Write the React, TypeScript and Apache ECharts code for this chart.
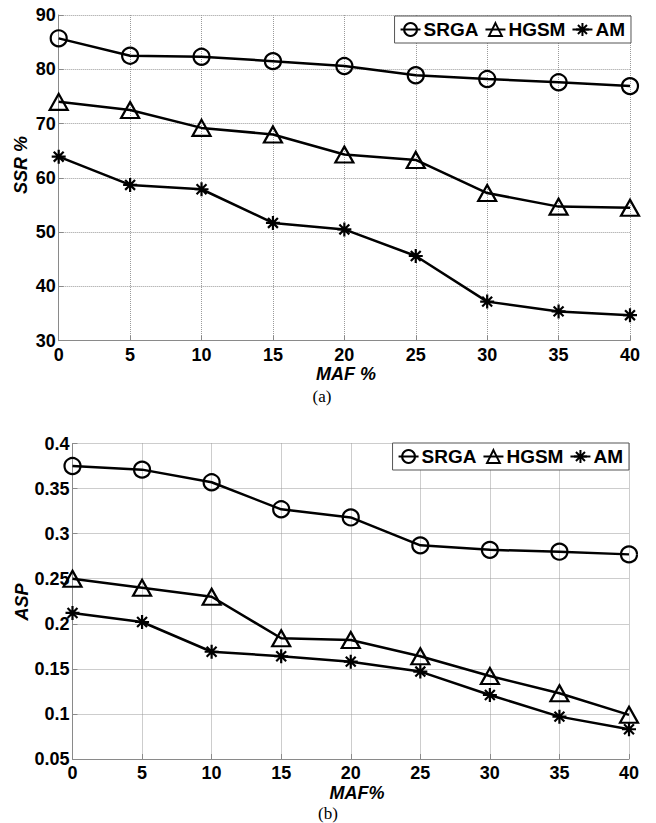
import React, { useEffect, useRef } from "react";
import * as echarts from "echarts";

const xValues = [0, 5, 10, 15, 20, 25, 30, 35, 40];
const seriesNames = ["SRGA", "HGSM", "AM"];

const ssrSRGA = [85.7, 82.5, 82.3, 81.5, 80.6, 78.9, 78.2, 77.6, 76.9];
const ssrHGSM = [74.0, 72.5, 69.2, 68.0, 64.3, 63.3, 57.2, 54.7, 54.5];
const ssrAM = [63.9, 58.7, 57.9, 51.7, 50.5, 45.6, 37.2, 35.4, 34.7];

const aspSRGA = [0.375, 0.371, 0.357, 0.327, 0.318, 0.287, 0.282, 0.28, 0.277];
const aspHGSM = [0.25, 0.24, 0.23, 0.184, 0.182, 0.164, 0.142, 0.123, 0.099];
const aspAM = [0.212, 0.202, 0.169, 0.164, 0.158, 0.147, 0.121, 0.097, 0.083];

const FONT = "'Liberation Sans', Arial, sans-serif";
const SERIF = "'Liberation Serif', 'Times New Roman', serif";
const AX = "#8a8a8a";

const ASTERISK =
  "path://M0,-10L0,10M-10,0L10,0M-7.07,-7.07L7.07,7.07M-7.07,7.07L7.07,-7.07";

const symbols: Record<string, any> = {
  SRGA: { symbol: "circle", symbolSize: 16 },
  HGSM: { symbol: "triangle", symbolSize: [18, 16] },
  AM: { symbol: ASTERISK, symbolSize: 14 },
};

function makeSeries(name: string, vals: number[], idx: number) {
  return {
    type: "line",
    name,
    xAxisIndex: idx,
    yAxisIndex: idx,
    data: xValues.map((x, i) => [x, vals[i]]),
    ...symbols[name],
    showAllSymbol: true,
    lineStyle: { color: "#000", width: 2.5 },
    itemStyle: { color: "rgba(0,0,0,0)", borderColor: "#000", borderWidth: 2.2 },
    emphasis: { disabled: true },
    z: name === "AM" ? 4 : 3,
  };
}

function xAxis(gridIndex: number) {
  return {
    type: "value",
    gridIndex,
    min: 0,
    max: 40,
    interval: 5,
    axisLine: { show: true, lineStyle: { color: AX, width: 1 } },
    axisTick: { show: true, inside: true, length: 5, lineStyle: { color: AX } },
    axisLabel: {
      color: "#000",
      fontFamily: FONT,
      fontWeight: "bold",
      fontSize: 18,
      margin: 5,
    },
    splitLine: { show: true, lineStyle: { color: "#9a9a9a", type: "dotted", width: 1 } },
  };
}

function yAxis(gridIndex: number, min: number, max: number, interval: number) {
  return {
    type: "value",
    gridIndex,
    min,
    max,
    interval,
    axisLine: { show: true, lineStyle: { color: AX, width: 1 } },
    axisTick: { show: true, inside: true, length: 5, lineStyle: { color: AX } },
    axisLabel: {
      color: "#000",
      fontFamily: FONT,
      fontWeight: "bold",
      fontSize: 18,
      margin: 3,
      formatter: (v: number) => String(parseFloat(v.toFixed(2))),
    },
    splitLine: { show: true, lineStyle: { color: "#9a9a9a", type: "dotted", width: 1 } },
  };
}

function legend(top: number, right: number) {
  return {
    data: seriesNames,
    top,
    right,
    orient: "horizontal",
    itemWidth: 20,
    itemHeight: 16,
    itemGap: 6,
    padding: [4, 6, 4, 5],
    backgroundColor: "#fff",
    borderColor: "#555",
    borderWidth: 1,
    borderRadius: 0,
    selectedMode: false,
    textStyle: {
      color: "#000",
      fontFamily: FONT,
      fontWeight: "bold",
      fontSize: 19,
      padding: [0, 0, 0, -2],
    },
  };
}

export default function App() {
  const ref = useRef<HTMLDivElement>(null);
  useEffect(() => {
    if (!ref.current) return;
    const chart = echarts.init(ref.current, undefined, { renderer: "svg" });
    chart.setOption({
      animation: false,
      backgroundColor: "#fff",
      grid: [
        { left: 58.7, top: 15, width: 571.3, height: 325.7, containLabel: false },
        { left: 72.5, top: 443.5, width: 556.5, height: 315.5, containLabel: false },
      ],
      xAxis: [xAxis(0), xAxis(1)],
      yAxis: [yAxis(0, 30, 90, 10), yAxis(1, 0.05, 0.4, 0.05)],
      legend: [legend(16, 25), legend(443, 27)],
      series: [
        makeSeries("SRGA", ssrSRGA, 0),
        makeSeries("HGSM", ssrHGSM, 0),
        makeSeries("AM", ssrAM, 0),
        makeSeries("SRGA", aspSRGA, 1),
        makeSeries("HGSM", aspHGSM, 1),
        makeSeries("AM", aspAM, 1),
      ],
      graphic: [
        {
          type: "text",
          x: 21,
          y: 165,
          rotation: Math.PI / 2,
          style: {
            text: "SSR %",
            font: `italic bold 18px ${FONT}`,
            fill: "#000",
            align: "center",
            verticalAlign: "middle",
          },
        },
        {
          type: "text",
          x: 346,
          y: 374,
          style: {
            text: "MAF %",
            font: `italic bold 18px ${FONT}`,
            fill: "#000",
            align: "center",
            verticalAlign: "middle",
          },
        },
        {
          type: "text",
          x: 322,
          y: 396,
          style: {
            text: "(a)",
            font: `17px ${SERIF}`,
            fill: "#000",
            align: "center",
            verticalAlign: "middle",
          },
        },
        {
          type: "text",
          x: 22,
          y: 602,
          rotation: Math.PI / 2,
          style: {
            text: "ASP",
            font: `italic bold 18px ${FONT}`,
            fill: "#000",
            align: "center",
            verticalAlign: "middle",
          },
        },
        {
          type: "text",
          x: 357,
          y: 793,
          style: {
            text: "MAF%",
            font: `italic bold 18px ${FONT}`,
            fill: "#000",
            align: "center",
            verticalAlign: "middle",
          },
        },
        {
          type: "text",
          x: 328,
          y: 813,
          style: {
            text: "(b)",
            font: `17px ${SERIF}`,
            fill: "#000",
            align: "center",
            verticalAlign: "middle",
          },
        },
      ],
    });
    return () => chart.dispose();
  }, []);
  return (
    <div
      ref={ref}
      style={{ position: "absolute", left: 0, top: 0, width: 656, height: 823 }}
    />
  );
}
